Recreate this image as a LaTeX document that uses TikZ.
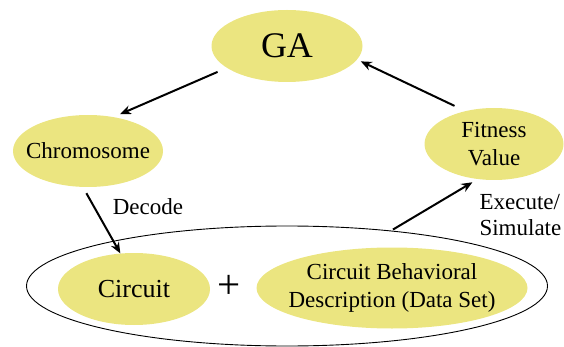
\documentclass[tikz,border=0pt]{standalone}
\usepackage{fontspec}
\setmainfont{Liberation Serif}
\usetikzlibrary{shapes.geometric,arrows.meta}
\definecolor{gayellow}{RGB}{235,229,128}

\begin{document}
\begin{tikzpicture}[x=1pt,y=-1pt,
                    bubble/.style={ellipse,fill=gayellow,inner sep=-12pt,align=center,font=\fontsize{23}{28}\selectfont},
                    flow/.style={-{Stealth[length=11pt,width=9pt]},line width=2pt},
                    caption/.style={font=\fontsize{23}{26}\selectfont,align=left}]
            \useasboundingbox (0,0) rectangle (564,347);
            \node[ellipse,draw,line width=0.9pt,minimum width=521pt,minimum height=120pt] (system) at (287,286) {};
            \node[bubble,minimum width=151pt,minimum height=72pt,font=\fontsize{36}{40}\selectfont] (ga) at (287,46) {GA};
            \node[bubble,minimum width=150pt,minimum height=72pt] (chromosome) at (88,151) {Chromosome};
            \node[bubble,minimum width=139pt,minimum height=72pt] (fitness) at (494,144) {Fitness\\Value};
            \node[bubble,minimum width=152pt,minimum height=72pt,font=\fontsize{26}{30}\selectfont] (circuit) at (134,289) {Circuit};
            \node[bubble,minimum width=271pt,minimum height=81pt] (dataset) at (392,288) {Circuit Behavioral\\Description (Data Set)};
            \node[font=\fontsize{41}{44}\selectfont] (plus) at (229,287) {+};
            \node[caption] (decode) at (148,207) {Decode};
            \node[caption,anchor=west] (execute) at (476,215) {Execute/\\Simulate};

            \draw[flow,shorten <=10pt,shorten >=7pt] (ga.200) -- (chromosome.53);
            \draw[flow,shorten <=7pt] (chromosome.262) -- (circuit.111);
            \draw[flow,shorten <=2pt,shorten >=6pt] (system.28) -- (fitness.245);
            \draw[flow,shorten <=12pt,shorten >=4pt] (fitness.131) -- (ga.-11);

        \end{tikzpicture}
\end{document}
